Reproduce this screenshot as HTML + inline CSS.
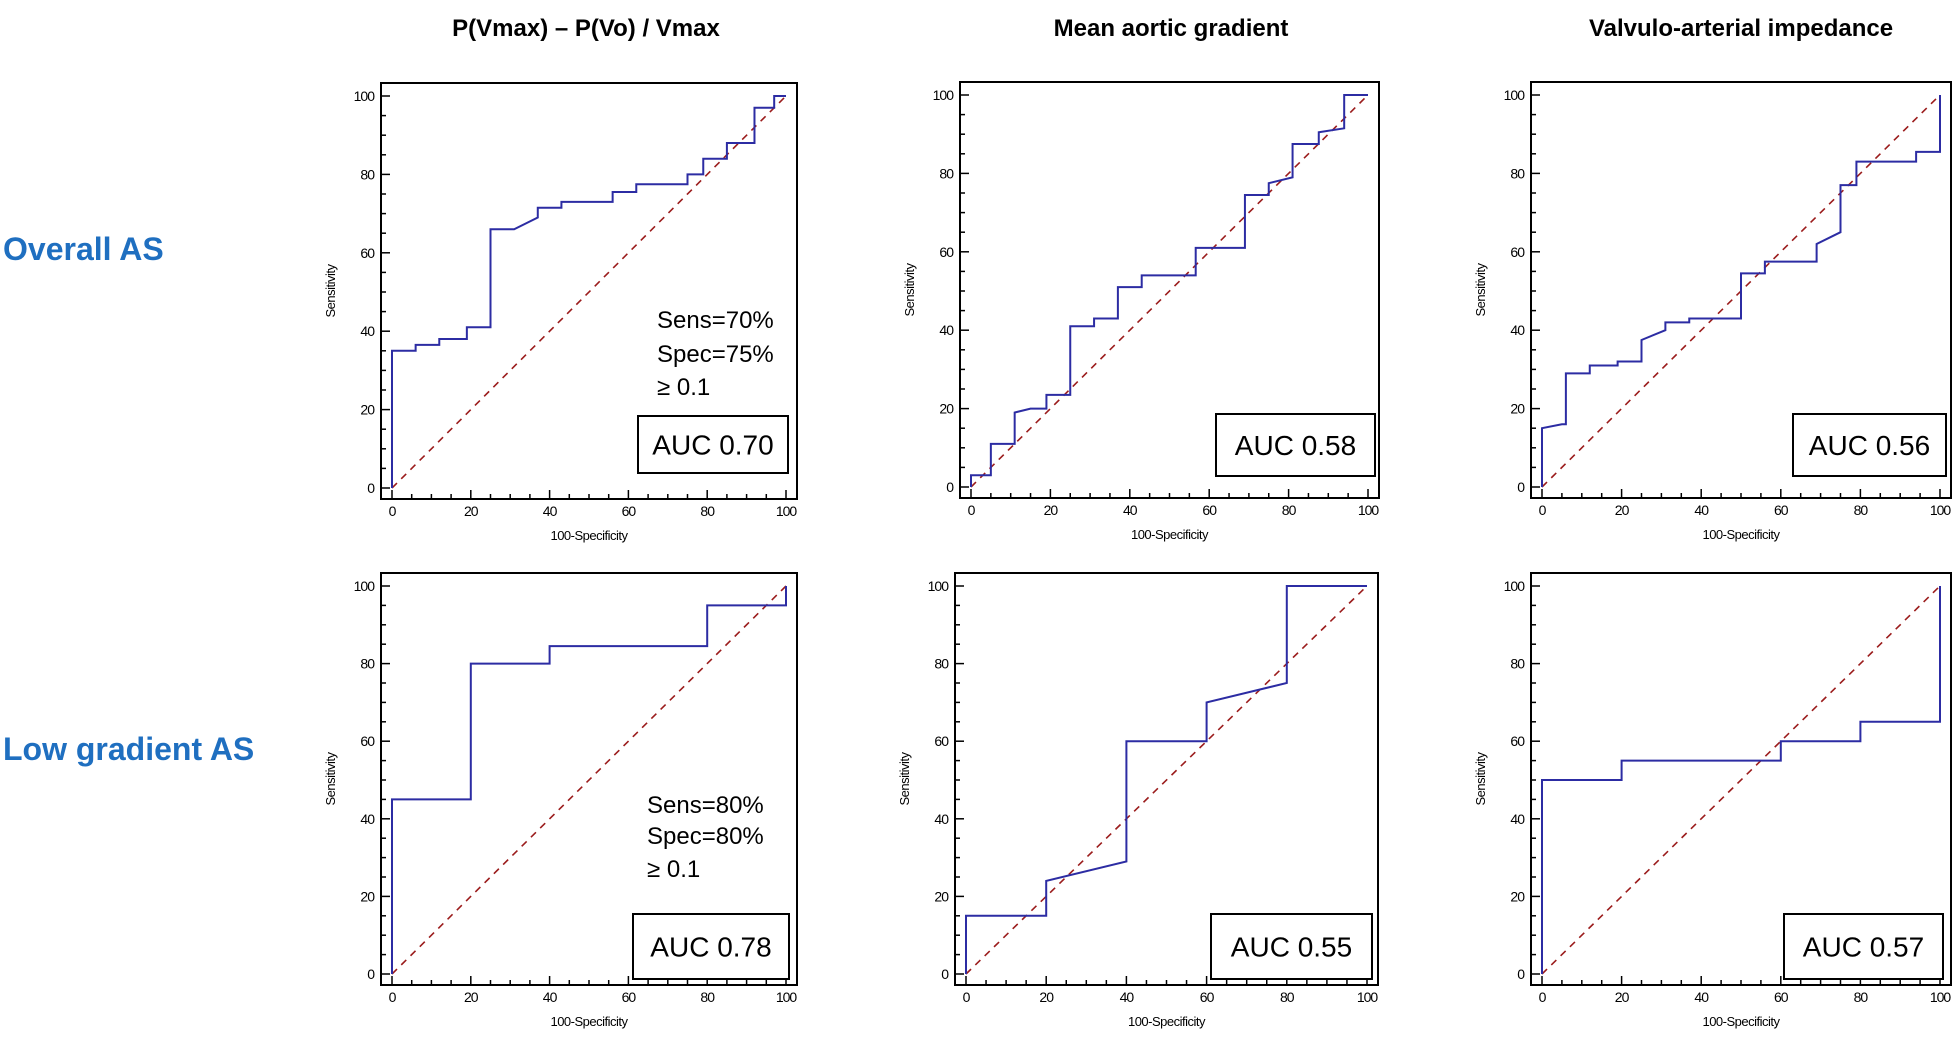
<!DOCTYPE html>
<html><head><meta charset="utf-8"><style>
html,body{margin:0;padding:0;background:#fff;}
svg{display:block;font-family:"Liberation Sans",Arial,sans-serif;}
</style></head><body>
<svg id="s" width="1955" height="1037" viewBox="0 0 1955 1037" xmlns="http://www.w3.org/2000/svg">
<text x="586" y="36" font-size="24" font-weight="bold" text-anchor="middle">P(Vmax) – P(Vo) / Vmax</text>
<text x="1171" y="36" font-size="24" font-weight="bold" text-anchor="middle">Mean aortic gradient</text>
<text x="1741" y="36" font-size="24" font-weight="bold" text-anchor="middle">Valvulo-arterial impedance</text>
<text x="3" y="260" font-size="32" font-weight="bold" fill="#1f6fc0">Overall AS</text>
<text x="3" y="760" font-size="32" font-weight="bold" fill="#1f6fc0">Low gradient AS</text>
</svg>
<script>
// ROC data (x = 100-Specificity, y = Sensitivity)
const xTicks = [0,20,40,60,80,100];
const yTicks = [0,20,40,60,80,100];
const r1p1X = [0,0,6,6,12,12,19,19,25,25,31,37,37,43,43,56,56,62,62,75,75,79,79,85,85,92,92,97,97,100];
const r1p1Y = [0,35,35,36.5,36.5,38,38,41,41,66,66,69,71.5,71.5,73,73,75.5,75.5,77.5,77.5,80,80,84,84,88,88,97,97,100,100];
const r1p2X = [0,0,5,5,11,11,15,19,19,25,25,31,31,37,37,43,43,56.6,56.6,69,69,75,75,81,81,87.6,87.6,94,94,100];
const r1p2Y = [0,3,3,11,11,19,20,20,23.5,23.5,41,41,43,43,51,51,54,54,61,61,74.5,74.5,77.5,79,87.5,87.5,90.5,91.5,100,100];
const r1p3X = [0,0,5,6,6,12,12,19,19,25,25,31,31,37,37,50,50,56,56,69,69,75,75,79,79,94,94,100,100];
const r1p3Y = [0,15,16,16,29,29,31,31,32,32,37.5,40,42,42,43,43,54.5,54.5,57.5,57.5,62,65,77,77,83,83,85.5,85.5,100];
const r2p1X = [0,0,20,20,40,40,80,80,100,100];
const r2p1Y = [0,45,45,80,80,84.5,84.5,95,95,100];
const r2p2X = [0,0,20,20,40,40,60,60,80,80,100];
const r2p2Y = [0,15,15,24,29,60,60,70,75,100,100];
const r2p3X = [0,0,20,20,60,60,80,80,100,100];
const r2p3Y = [0,50,50,55,55,60,60,65,65,100];
const aucLabels = ["AUC 0.70","AUC 0.58","AUC 0.56","AUC 0.78","AUC 0.55","AUC 0.57"];

const NS="http://www.w3.org/2000/svg";
const svg=document.getElementById('s');
function mk(tag,attrs,parent){const e=document.createElementNS(NS,tag);for(const k in attrs)e.setAttribute(k,attrs[k]);(parent||svg).appendChild(e);return e;}

const panels=[
 {L:381,R:797,T:83,B:499,xs:r1p1X,ys:r1p1Y,box:[638,416,150,57],sens:["Sens=70%","Spec=75%","≥ 0.1"],sy:[328,362,395],sx:657,name:'overall-pvmax'},
 {L:960,R:1379,T:82,B:498,xs:r1p2X,ys:r1p2Y,box:[1216,414,159,62],name:'overall-mean-gradient'},
 {L:1531,R:1951,T:82,B:498,xs:r1p3X,ys:r1p3Y,box:[1793,414,153,62],name:'overall-va-impedance'},
 {L:381,R:797,T:573,B:985,xs:r2p1X,ys:r2p1Y,box:[633,914,156,65],sens:["Sens=80%","Spec=80%","≥ 0.1"],sy:[813,844,877],sx:647,name:'lowgrad-pvmax'},
 {L:955,R:1378,T:573,B:985,xs:r2p2X,ys:r2p2Y,box:[1211,914,161,65],name:'lowgrad-mean-gradient'},
 {L:1531,R:1951,T:573,B:985,xs:r2p3X,ys:r2p3Y,box:[1784,914,159,65],name:'lowgrad-va-impedance'}
];

panels.forEach((p,i)=>{
 const g=mk('g',{});
 
 
 const x0=p.L+11,x1=p.R-11,y0=p.B-11,y1=p.T+13;
 const sx=v=>x0+(x1-x0)*v/100, sy=v=>y0-(y0-y1)*v/100;
 const fr=mk('rect',{x:p.L,y:p.T,width:p.R-p.L,height:p.B-p.T,fill:'none',stroke:'#000','stroke-width':2},g);
 
 
 for(let v=0;v<=100;v+=5){
  const major=v%20===0, len=major?9:5;
  mk('line',{x1:p.L,x2:p.L+len,y1:sy(v),y2:sy(v),stroke:'#000','stroke-width':1.5},g);
  mk('line',{x1:sx(v),x2:sx(v),y1:p.B,y2:p.B-len,stroke:'#000','stroke-width':1.5},g);
 }
 yTicks.forEach(v=>{const t=mk('text',{x:p.L-7,y:sy(v)+5,'font-size':14,'text-anchor':'end','letter-spacing':'-1'},g);t.textContent=v;
  
  });
 xTicks.forEach(v=>{const t=mk('text',{x:sx(v),y:p.B+17,'font-size':14,'text-anchor':'middle','letter-spacing':'-1'},g);t.textContent=v;
  
  });
 const xt=mk('text',{x:(p.L+p.R)/2,y:p.B+41,'font-size':13,'text-anchor':'middle','letter-spacing':'-0.5'},g);xt.textContent='100-Specificity';
 
 
 const cy=(p.T+p.B)/2;
 const yt=mk('text',{x:p.L-46,y:cy,'font-size':13,'text-anchor':'middle',transform:`rotate(-90 ${p.L-46} ${cy})`,'letter-spacing':'-0.5'},g);yt.textContent='Sensitivity';
 
 
 const dg=mk('line',{x1:sx(0),y1:sy(0),x2:sx(100),y2:sy(100),stroke:'#9b1c1c','stroke-width':1.6,'stroke-dasharray':'7,6'},g);
 
 
 const pts=p.xs.map((x,k)=>sx(x)+','+sy(p.ys[k])).join(' ');
 const pl=mk('polyline',{points:pts,fill:'none',stroke:'#2c2ca3','stroke-width':2},g);
 
 
 if(p.sens){p.sens.forEach((s,k)=>{const t=mk('text',{x:p.sx,y:p.sy[k],'font-size':24},g);t.textContent=s;
  
  });}
 const b=p.box;
 const br=mk('rect',{x:b[0],y:b[1],width:b[2],height:b[3],fill:'#fff',stroke:'#000','stroke-width':2},g);
 
 
 const at=mk('text',{x:b[0]+b[2]/2,y:b[1]+b[3]/2+10,'font-size':28,'text-anchor':'middle'},g);at.textContent=aucLabels[i];
 
 
});
</script>
</body></html>
